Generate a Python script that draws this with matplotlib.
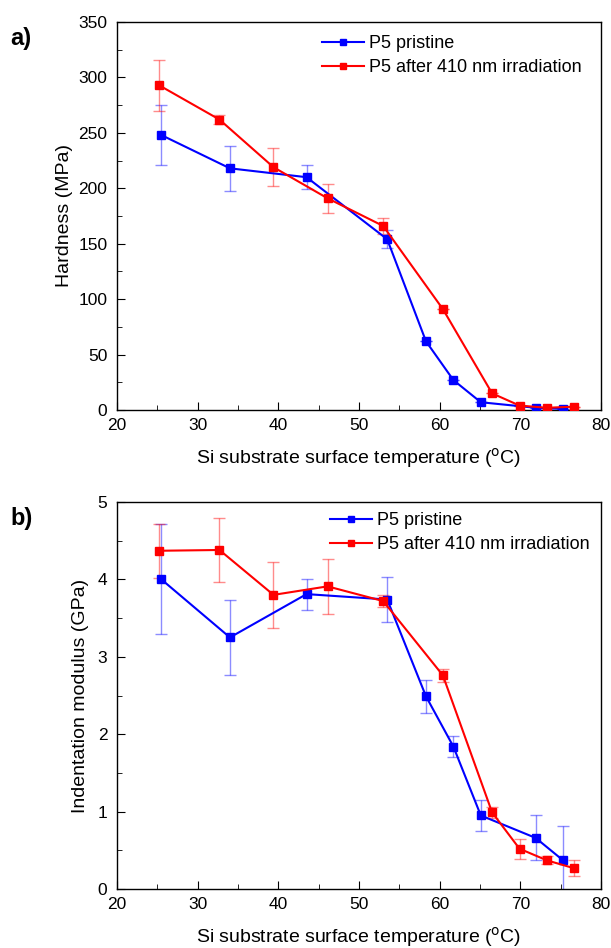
import matplotlib
matplotlib.use("Agg")
import matplotlib.pyplot as plt
from matplotlib.ticker import MultipleLocator

plt.rcParams['font.family'] = ['Liberation Sans', 'DejaVu Sans']

# Hardness data
h_pr_x = [25.5, 34.0, 43.5, 53.5, 58.3, 61.7, 65.1, 71.9, 75.3]
h_pr_y = [248, 218, 210, 154, 62, 27, 7, 2, 1]
h_pr_e = [27, 20, 11, 8, 0, 0, 0, 0, 0]
h_ir_x = [25.2, 32.7, 39.4, 46.1, 53.0, 60.4, 66.5, 69.9, 73.3, 76.6]
h_ir_y = [293, 262, 219, 191, 166, 91, 15, 4, 2, 3]
h_ir_e = [23, 4, 17, 13, 7, 0, 0, 0, 0, 0]

# Modulus data
m_pr_x = [25.5, 34.0, 43.5, 53.5, 58.3, 61.7, 65.1, 71.9, 75.3]
m_pr_y = [4.00, 3.25, 3.81, 3.74, 2.49, 1.84, 0.95, 0.66, 0.37]
m_pr_e = [0.71, 0.49, 0.20, 0.29, 0.21, 0.14, 0.20, 0.29, 0.44]
m_ir_x = [25.2, 32.7, 39.4, 46.1, 53.0, 60.4, 66.5, 69.9, 73.3, 76.6]
m_ir_y = [4.37, 4.38, 3.80, 3.91, 3.72, 2.76, 0.99, 0.52, 0.37, 0.27]
m_ir_e = [0.35, 0.41, 0.43, 0.36, 0.08, 0.08, 0.07, 0.13, 0.05, 0.10]

lab_pr = "P5 pristine"
lab_ir = "P5 after 410 nm irradiation"
blue = "#0000ff"
red = "#ff0000"

W, H = 611, 948
fig = plt.figure(figsize=(W / 100, H / 100), dpi=100)
ax1 = fig.add_axes([117/W, 1-410/H, 484/W, 388/H])
ax2 = fig.add_axes([117/W, 1-889/H, 484/W, 387/H])

def draw(ax, xp, yp, ep, xi, yi, ei, leg_x, leg_y):
    ax.errorbar(xp, yp, yerr=ep, fmt='none', ecolor=blue, alpha=0.45, elinewidth=1, capsize=4.5, capthick=1, zorder=2)
    ax.errorbar(xi, yi, yerr=ei, fmt='none', ecolor=red, alpha=0.45, elinewidth=1, capsize=4.5, capthick=1, zorder=2)
    ax.plot(xp, yp, '-s', color=blue, lw=1.5, ms=6.2, label=lab_pr, zorder=3)
    ax.plot(xi, yi, '-s', color=red, lw=1.5, ms=6.2, label=lab_ir, zorder=4)
    ax.set_xlim(20, 80)
    ax.xaxis.set_major_locator(MultipleLocator(10))
    ax.xaxis.set_minor_locator(MultipleLocator(5))
    ax.tick_params(which='both', direction='in', top=False, right=False, labelsize=12.5)
    ax.tick_params(axis='x', which='major', pad=6)
    ax.tick_params(axis='y', which='major', pad=7)
    ax.tick_params(which='major', length=6)
    ax.tick_params(which='minor', length=3.5)
    for s in ax.spines.values():
        s.set_linewidth(1.0)
    ax.set_xlabel(r"Si substrate surface temperature ($^{\rm o}$C)", fontsize=14, labelpad=9)
    ax.legend(loc='upper left', bbox_to_anchor=(leg_x / W, 1 - leg_y / H),
              bbox_transform=fig.transFigure, frameon=False, fontsize=13,
              handlelength=2.3, handletextpad=0.3, labelspacing=0.38,
              borderpad=0, borderaxespad=0, markerscale=0.8)

draw(ax1, h_pr_x, h_pr_y, h_pr_e, h_ir_x, h_ir_y, h_ir_e, 322, 35)
ax1.set_ylim(0, 350)
ax1.yaxis.set_major_locator(MultipleLocator(50))
ax1.yaxis.set_minor_locator(MultipleLocator(25))
ax1.set_ylabel("Hardness (MPa)", fontsize=14)
ax1.yaxis.set_label_coords((73 - 117) / 484, 0.5)

draw(ax2, m_pr_x, m_pr_y, m_pr_e, m_ir_x, m_ir_y, m_ir_e, 330, 512)
ax2.set_ylim(0, 5)
ax2.yaxis.set_major_locator(MultipleLocator(1))
ax2.yaxis.set_minor_locator(MultipleLocator(0.5))
ax2.set_ylabel("Indentation modulus (GPa)", fontsize=14)
ax2.yaxis.set_label_coords((89 - 117) / 484, 0.5)

fig.text(10/W, 1-38/H, "a)", fontsize=17, fontweight='bold', va='center')
fig.text(10/W, 1-518/H, "b)", fontsize=17, fontweight='bold', va='center')

fig.savefig("out.png", dpi=100)
